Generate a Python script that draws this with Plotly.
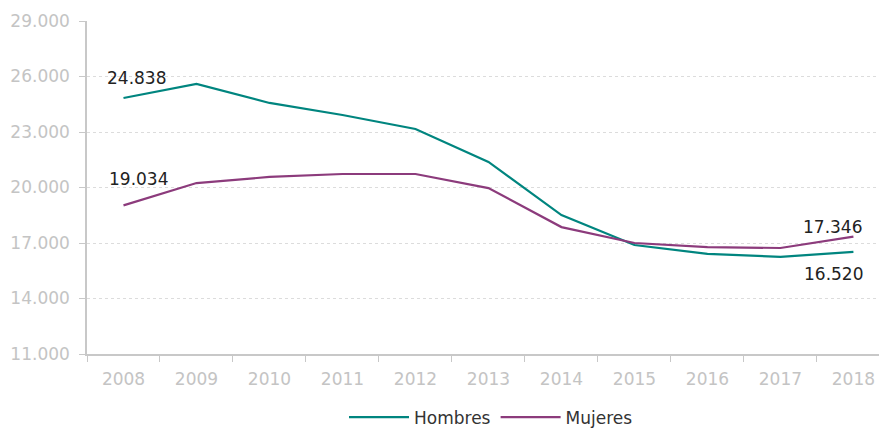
import plotly.graph_objects as go

years = ["2008", "2009", "2010", "2011", "2012", "2013", "2014", "2015", "2016", "2017", "2018"]
hombres = [24838, 25600, 24570, 23920, 23160, 21380, 18510, 16890, 16410, 16250, 16520]
mujeres = [19034, 20240, 20570, 20730, 20730, 19970, 17860, 17000, 16780, 16730, 17346]
y_ticks = [11000, 14000, 17000, 20000, 23000, 26000, 29000]

teal = "#00857f"
purple = "#8c3b7c"
font = "DejaVu Sans"

fig = go.Figure()
fig.add_trace(go.Scatter(x=years, y=hombres, mode="lines", name="Hombres",
                         line=dict(color=teal, width=2.2)))
fig.add_trace(go.Scatter(x=years, y=mujeres, mode="lines", name="Mujeres",
                         line=dict(color=purple, width=2.2)))

def fmt(v):
    return f"{v:,}".replace(",", ".")

lab = dict(showarrow=False, font=dict(family=font, size=17, color="#222222"))
last = len(years) - 1
fig.add_annotation(x=0, y=hombres[0], text=fmt(hombres[0]), xshift=13, yshift=20, **lab)
fig.add_annotation(x=0, y=mujeres[0], text=fmt(mujeres[0]), xshift=15, yshift=26, **lab)
fig.add_annotation(x=last, y=mujeres[last], text=fmt(mujeres[last]), xshift=-21, yshift=10, **lab)
fig.add_annotation(x=last, y=hombres[last], text=fmt(hombres[last]), xshift=-20, yshift=-22, **lab)

fig.update_layout(
    width=879, height=428,
    margin=dict(l=79, r=0, t=13, b=82),
    plot_bgcolor="white", paper_bgcolor="white",
    separators=",.",
    font=dict(family=font, size=17, color="#c4c4c4"),
    showlegend=True,
    legend=dict(orientation="h", x=0.505, xanchor="center", y=-0.137, yanchor="top",
                font=dict(family=font, size=17, color="#333333"),
                itemwidth=60, tracegroupgap=0),
    xaxis=dict(type="category", showgrid=False, showline=True, linecolor="#c8c8c8",
               linewidth=1.5, ticks="outside", tickson="boundaries", ticklen=6,
               tickcolor="#c8c8c8", tickfont=dict(color="#c4c4c4", size=17),
               ticklabelstandoff=9,
               range=[-0.5, 10.46], automargin=False),
    yaxis=dict(range=[11000, 29000], tickvals=y_ticks, tickformat=",d",
               showgrid=True, gridcolor="#dcdcdc", griddash="dot", gridwidth=1,
               showline=True, linecolor="#c8c8c8", linewidth=1.5,
               ticks="outside", ticklen=6, tickcolor="#c8c8c8",
               tickfont=dict(color="#c4c4c4", size=17), zeroline=False,
               ticklabelstandoff=6, automargin=False),
)

fig.write_html("out.html")
